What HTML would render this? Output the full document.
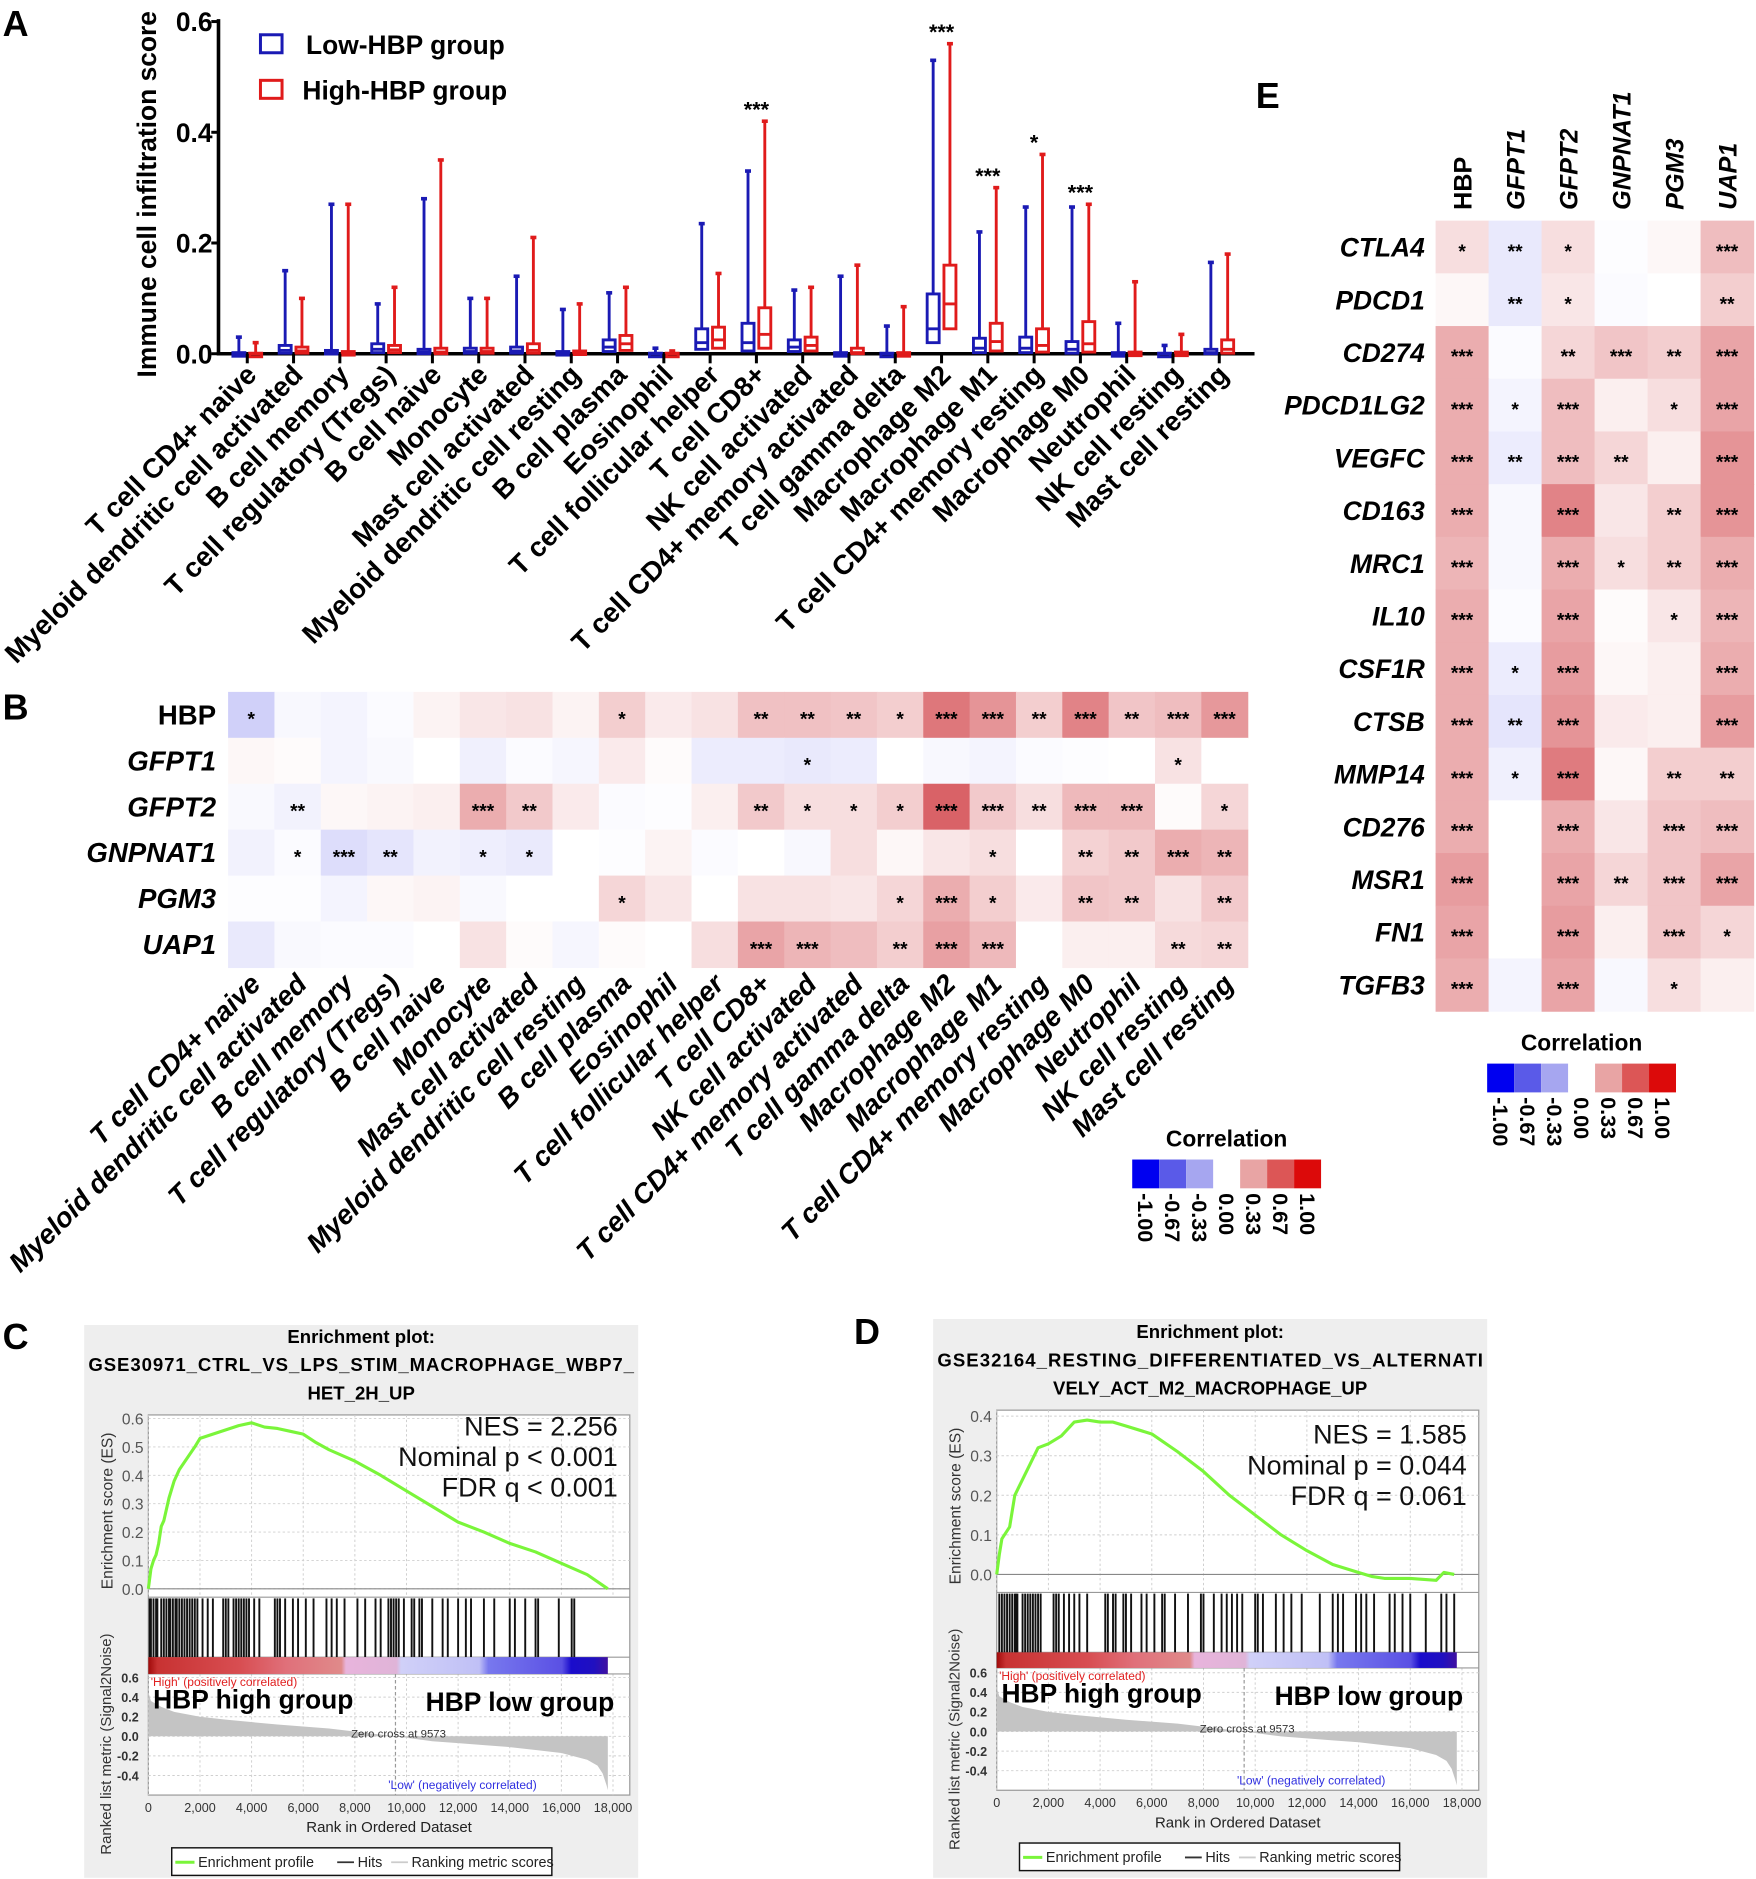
<!DOCTYPE html>
<html><head><meta charset="utf-8">
<style>
html,body{margin:0;padding:0;background:#fff;}
svg{display:block;font-family:"Liberation Sans",Arial,sans-serif;}
</style></head>
<body>
<svg id="fig" xmlns="http://www.w3.org/2000/svg" width="1756" height="1879" viewBox="0 0 1464 1567">
<rect x="0" y="0" width="1464" height="1567" fill="#fff"/>
<g id="panelA"></g>
<g id="panelB"></g>
<g id="panelE"></g>
<g id="panelC"></g>
<g id="panelD"></g>
</svg>
<script>
// ---------- Panel A data ----------
const cellTypes = ["T cell CD4+ naive","Myeloid dendritic cell activated","B cell memory","T cell regulatory (Tregs)","B cell naive","Monocyte","Mast cell activated","Myeloid dendritic cell resting","B cell plasma","Eosinophil","T cell follicular helper","T cell CD8+","NK cell activated","T cell CD4+ memory activated","T cell gamma delta","Macrophage M2","Macrophage M1","T cell CD4+ memory resting","Macrophage M0","Neutrophil","NK cell resting","Mast cell resting"];
const lowMax = [0.03,0.15,0.27,0.09,0.28,0.10,0.14,0.08,0.11,0.01,0.235,0.33,0.115,0.14,0.05,0.53,0.22,0.265,0.265,0.055,0.015,0.165];
const lowQ3  = [0.002,0.015,0.006,0.018,0.008,0.01,0.012,0.004,0.025,0.001,0.045,0.055,0.025,0.002,0.001,0.108,0.028,0.03,0.022,0.002,0.001,0.008];
const lowMed = [0,0.006,0.002,0.008,0.003,0.004,0.005,0.001,0.012,0,0.02,0.02,0.012,0,0,0.045,0.01,0.01,0.008,0,0,0.002];
const lowQ1  = [0,0.001,0,0.002,0,0.001,0.001,0,0.004,0,0.008,0.005,0.004,0,0,0.02,0.002,0.002,0.001,0,0,0];
const highMax = [0.02,0.10,0.27,0.12,0.35,0.10,0.21,0.09,0.12,0.005,0.145,0.42,0.12,0.16,0.085,0.56,0.30,0.36,0.27,0.13,0.035,0.18];
const highQ3  = [0.001,0.012,0.004,0.015,0.01,0.01,0.018,0.005,0.033,0.001,0.048,0.083,0.03,0.01,0.002,0.16,0.055,0.045,0.058,0.003,0.003,0.025];
const highMed = [0,0.005,0.001,0.007,0.003,0.004,0.006,0.001,0.018,0,0.025,0.035,0.015,0.002,0,0.09,0.022,0.015,0.018,0,0,0.008];
const highQ1  = [0,0.001,0,0.002,0,0.001,0.001,0,0.006,0,0.01,0.01,0.005,0,0,0.045,0.005,0.003,0.003,0,0,0.001];
const sigA = ["","","","","","","","","","","","***","","","","***","***","*","***","","",""];
const yTicksA = [0.0,0.2,0.4,0.6];
const yTickLabelsA = ["0.0","0.2","0.4","0.6"];

// ---------- Panel B data ----------
const genesB = ["HBP","GFPT1","GFPT2","GNPNAT1","PGM3","UAP1"];
const corrB = [
 [-0.25,-0.04,-0.06,-0.02,0.03,0.06,0.07,0.03,0.12,0.05,0.07,0.15,0.15,0.14,0.12,0.33,0.26,0.12,0.30,0.14,0.16,0.25],
 [0.02,0.01,-0.06,-0.03,0,-0.08,-0.02,-0.05,0.05,0.01,-0.1,-0.1,-0.12,-0.1,0,-0.04,-0.06,-0.02,-0.01,0,0.07,0],
 [-0.03,-0.07,0.02,0.03,0.04,0.2,0.13,0.05,-0.02,-0.01,0.04,0.13,0.08,0.08,0.12,0.38,0.13,0.08,0.17,0.17,0.01,0.1],
 [-0.07,-0.02,-0.18,-0.14,-0.07,-0.09,-0.11,0,-0.01,0.03,-0.02,0,-0.04,0.08,0.02,0.06,0.08,0,0.11,0.13,0.2,0.18],
 [-0.01,-0.01,-0.06,0.02,0.03,-0.03,0,0,0.1,0.06,0,0.07,0.07,0.06,0.1,0.2,0.12,0.05,0.14,0.13,0.07,0.13],
 [-0.12,-0.03,-0.02,-0.02,0,0.07,0.01,-0.05,0.01,0,0.08,0.22,0.18,0.16,0.12,0.23,0.17,0,0.04,0.04,0.09,0.1]];
const starsB = [
 ["*","","","","","","","","*","","","**","**","**","*","***","***","**","***","**","***","***"],
 ["","","","","","","","","","","","","*","","","","","","","","*",""],
 ["","**","","","","***","**","","","","","**","*","*","*","***","***","**","***","***","","*"],
 ["","*","***","**","","*","*","","","","","","","","","","*","","**","**","***","**"],
 ["","","","","","","","","*","","","","","","*","***","*","","**","**","","**"],
 ["","","","","","","","","","","","***","***","","**","***","***","","","","**","**"]];

// ---------- Panel E data ----------
const genesE = ["HBP","GFPT1","GFPT2","GNPNAT1","PGM3","UAP1"];
const targetsE = ["CTLA4","PDCD1","CD274","PDCD1LG2","VEGFC","CD163","MRC1","IL10","CSF1R","CTSB","MMP14","CD276","MSR1","FN1","TGFB3"];
const corrE = [
 [0.08,-0.12,0.08,-0.01,0.02,0.16],[0.02,-0.12,0.06,-0.02,0,0.12],[0.2,-0.02,0.1,0.14,0.12,0.22],
 [0.2,-0.06,0.16,0.04,0.08,0.22],[0.2,-0.1,0.16,0.1,0.04,0.26],[0.2,-0.04,0.3,0.06,0.12,0.26],
 [0.18,-0.04,0.2,0.08,0.12,0.2],[0.2,-0.02,0.22,0.01,0.06,0.18],[0.2,-0.1,0.24,0.02,0.04,0.2],
 [0.2,-0.14,0.26,0.05,0.04,0.24],[0.2,-0.08,0.32,0.02,0.12,0.12],[0.2,0,0.2,0.06,0.14,0.16],
 [0.24,0,0.22,0.1,0.14,0.22],[0.22,0,0.24,0.04,0.14,0.1],[0.2,-0.06,0.22,-0.04,0.08,0.04]];
const starsE = [
 ["*","**","*","","","***"],["","**","*","","","**"],["***","","**","***","**","***"],
 ["***","*","***","","*","***"],["***","**","***","**","","***"],["***","","***","","**","***"],
 ["***","","***","*","**","***"],["***","","***","","*","***"],["***","*","***","","","***"],
 ["***","**","***","","","***"],["***","*","***","","**","**"],["***","","***","","***","***"],
 ["***","","***","**","***","***"],["***","","***","","***","*"],["***","","***","","*",""]];
const legendTicks = ["-1.00","-0.67","-0.33","0.00","0.33","0.67","1.00"];

// ---------- Panel C/D data ----------
const esRankC = [0,0.1,0.2,0.3,0.4,0.5,0.6,0.8,1,1.2,1.5,1.8,2,2.5,3,3.5,4,4.5,5,5.5,6,6.5,7,8,9,10,11,12,13,14,15,16,17,17.8];
const esValC  = [0,0.07,0.1,0.12,0.16,0.22,0.24,0.32,0.38,0.42,0.46,0.5,0.53,0.545,0.56,0.575,0.585,0.57,0.565,0.555,0.545,0.515,0.49,0.45,0.4,0.345,0.29,0.235,0.2,0.16,0.13,0.09,0.05,0];
const esRankD = [0,0.1,0.2,0.5,0.7,1,1.3,1.6,2,2.5,3,3.5,4,4.5,5,6,7,8,9,10,11,12,13,14,14.5,15,16,17,17.3,17.7];
const esValD  = [0,0.05,0.09,0.12,0.2,0.24,0.28,0.32,0.33,0.35,0.385,0.39,0.385,0.385,0.375,0.355,0.31,0.26,0.2,0.15,0.1,0.06,0.025,0.005,-0.005,-0.01,-0.01,-0.015,0.005,0];
const hitsC = [0.05,0.1,0.2,0.3,0.35,0.5,0.6,0.7,0.8,0.85,0.95,1.05,1.1,1.2,1.3,1.4,1.5,1.6,1.7,1.8,1.9,2.1,2.3,2.5,2.9,3.0,3.1,3.3,3.4,3.5,3.6,3.7,3.8,3.9,4.1,4.3,4.9,5.0,5.1,5.3,5.6,5.8,6.1,6.4,6.9,7.1,7.3,7.6,8.1,8.4,8.8,9.0,9.3,9.4,9.5,9.6,9.7,9.9,10.2,10.3,10.5,10.6,11.0,11.4,11.6,12.0,12.3,12.5,13.0,13.4,14.0,14.2,14.6,15.0,15.1,15.9,16.4,16.5];
const hitsD = [0.1,0.2,0.3,0.4,0.5,0.6,0.7,0.75,0.8,1.0,1.1,1.2,1.3,1.4,1.5,1.6,1.7,2.2,2.3,2.4,2.6,2.8,3.0,3.2,3.5,4.2,4.3,4.5,4.6,4.9,5.0,5.2,5.6,5.8,6.1,6.4,6.5,6.9,7.4,7.9,8.0,8.4,8.7,8.9,9.1,9.3,9.5,10.0,10.1,10.3,10.8,11.1,11.4,11.8,12.5,13.0,13.2,13.4,13.9,14.1,14.3,14.6,15.2,15.4,15.7,16.0,16.6,17.2,17.4,17.7];
const metricRank = [0,0.1,0.5,1,2,3,5,7,9.57,11,12,13,14,15,16,17,17.4,17.6,17.75,17.8];
const metricVal  = [0.45,0.36,0.3,0.25,0.2,0.17,0.12,0.08,0,-0.05,-0.07,-0.09,-0.11,-0.14,-0.17,-0.24,-0.3,-0.38,-0.5,-0.55];
const rankTicks = [0,2000,4000,6000,8000,10000,12000,14000,16000,18000];
const rankTickLabels = ["0","2,000","4,000","6,000","8,000","10,000","12,000","14,000","16,000","18,000"];
const esTicksC = [0,0.1,0.2,0.3,0.4,0.5,0.6];
const esTicksD = [0,0.1,0.2,0.3,0.4];
const metricTicks = [0.6,0.4,0.2,0.0,-0.2,-0.4];

const NS="http://www.w3.org/2000/svg";
function el(tag,parent,attrs){const e=document.createElementNS(NS,tag);for(const k in attrs)e.setAttribute(k,attrs[k]);parent.appendChild(e);return e;}
function txt(parent,x,y,s,attrs){const e=el('text',parent,Object.assign({x:x,y:y},attrs||{}));e.textContent=s;return e;}
function heat(v){const t=Math.min(Math.abs(v)/0.4,1);if(v>=0)return `rgb(${Math.round(255-40*t)},${Math.round(255-165*t)},${Math.round(255-160*t)})`;return `rgb(${Math.round(255-75*t)},${Math.round(255-75*t)},${Math.round(255-10*t)})`;}

// ============ Panel A ============
(function(){
const g=document.getElementById('panelA');
const yA=v=>295-v*461.7;
const xA=i=>206+i*38.6;
const AX=182;
let t=txt(g,2,30,"A",{"font-size":30,"font-weight":"bold"});

t=txt(g,0,0,"Immune cell infiltration score",{"font-size":22,"font-weight":"bold","text-anchor":"middle",transform:"translate(130,162) rotate(-90)"});

let ax=el('line',g,{x1:AX,y1:16,x2:AX,y2:296,stroke:"#000","stroke-width":3});

ax=el('line',g,{x1:AX-1.5,y1:295,x2:1046,y2:295,stroke:"#000","stroke-width":3});

yTicksA.forEach((v,i)=>{
 const tk=el('line',g,{x1:AX-6,y1:yA(v),x2:AX,y2:yA(v),stroke:"#000","stroke-width":2.5});
 
 const l=txt(g,AX-5,yA(v)+8,yTickLabelsA[i],{"font-size":22,"font-weight":"bold","text-anchor":"end"});
 });
// legend
let r=el('rect',g,{x:217,y:29,width:18,height:15,fill:"none",stroke:"#1a1ab4","stroke-width":2.5});

t=txt(g,255,45,"Low-HBP group",{"font-size":22,"font-weight":"bold"});

r=el('rect',g,{x:217,y:67,width:18,height:15,fill:"none",stroke:"#e01b1b","stroke-width":2.5});

t=txt(g,252,83,"High-HBP group",{"font-size":22,"font-weight":"bold"});

function box(cx,mx,q3,md,q1,col,name){
 const bg=el('g',g,{stroke:col,"stroke-width":2.4,fill:"none"});
 
 el('line',bg,{x1:cx,y1:yA(mx),x2:cx,y2:yA(q3)});
 el('line',bg,{x1:cx-2.5,y1:yA(mx),x2:cx+2.5,y2:yA(mx),"stroke-width":3});
 const h=Math.max(yA(q1)-yA(q3),3);
 el('rect',bg,{x:cx-5,y:yA(q3),width:10,height:h});
 el('line',bg,{x1:cx-5,y1:yA(md),x2:cx+5,y2:yA(md)});
}
cellTypes.forEach((c,i)=>{
 const cx=xA(i);
 box(cx-7,lowMax[i],lowQ3[i],lowMed[i],lowQ1[i],"#1a1ab4","box-low-"+i);
 box(cx+7,highMax[i],highQ3[i],highMed[i],highQ1[i],"#e01b1b","box-high-"+i);
 const tk=el('line',g,{x1:cx,y1:295,x2:cx,y2:303,stroke:"#000","stroke-width":2.5});
 
 const l=txt(g,0,0,c,{"font-size":23,"font-weight":"bold","text-anchor":"end",transform:`translate(${cx+9},${314}) rotate(-45)`});
 
 if(sigA[i]){const s=txt(g,cx,yA(Math.max(lowMax[i],highMax[i]))-4,sigA[i],{"font-size":18,"font-weight":"bold","text-anchor":"middle"});
 }
});
})();

// ============ Colour legend helper ============
function colorLegend(g,x0,y0,name){
 const lg=el('g',g,{});
 
 const cols=["#0000f0","#5a5ae8","#a6a6f0","#ffffff","#e8a4a4","#dc5656","#dc0a0a"];
 const w=22.5;
 cols.forEach((c,i)=>{if(i!==3){const r=el('rect',lg,{x:x0+i*w,y:y0,width:w,height:24,fill:c});}});
 const t=txt(lg,x0+3.5*w,y0-11,"Correlation",{"font-size":19,"font-weight":"bold","text-anchor":"middle"});
 
 legendTicks.forEach((s,i)=>{const l=txt(lg,0,0,s,{"font-size":18,"font-weight":"bold",transform:`translate(${x0+i*w+5},${y0+28}) rotate(90)`});
 });
}

// ============ Panel B ============
(function(){
const g=document.getElementById('panelB');
const x0=190,y0=577,cw=38.65,ch=38.3;
let t=txt(g,2,600,"B",{"font-size":30,"font-weight":"bold"});

genesB.forEach((gn,r)=>{
 const l=txt(g,180,y0+r*ch+ch/2+8,gn,{"font-size":23,"font-weight":"bold","text-anchor":"end","font-style":r===0?"normal":"italic"});
 
 corrB[r].forEach((v,c)=>{
  const rc=el('rect',g,{x:x0+c*cw,y:y0+r*ch,width:cw+0.5,height:ch+0.5,fill:heat(v)});
  
  if(starsB[r][c]){const s=txt(g,x0+c*cw+cw/2,y0+r*ch+ch/2+9,starsB[r][c],{"font-size":16,"font-weight":"bold","text-anchor":"middle"});
  }
 });
});
cellTypes.forEach((c,i)=>{
 const cx=x0+i*cw+cw/2;
 const l=txt(g,0,0,c,{"font-size":23,"font-weight":"bold","font-style":"italic","text-anchor":"end",transform:`translate(${cx+9},${822}) rotate(-45)`});
 
});
colorLegend(g,944,967,'legend-b');
})();

// ============ Panel E ============
(function(){
const g=document.getElementById('panelE');
const x0=1197,y0=184,cw=44.2,ch=43.95;
let t=txt(g,1047,90,"E",{"font-size":30,"font-weight":"bold"});

genesE.forEach((gn,c)=>{
 const l=txt(g,0,0,gn,{"font-size":21,"font-weight":"bold","font-style":c===0?"normal":"italic",transform:`translate(${x0+c*cw+cw/2+8},175) rotate(-90)`});
 
});
targetsE.forEach((tg,r)=>{
 const l=txt(g,1188,y0+r*ch+ch/2+8,tg,{"font-size":22,"font-weight":"bold","font-style":"italic","text-anchor":"end"});
 
 corrE[r].forEach((v,c)=>{
  const rc=el('rect',g,{x:x0+c*cw,y:y0+r*ch,width:cw+0.5,height:ch+0.5,fill:heat(v)});
  
  if(starsE[r][c]){const s=txt(g,x0+c*cw+cw/2,y0+r*ch+ch/2+9,starsE[r][c],{"font-size":16,"font-weight":"bold","text-anchor":"middle"});
  }
 });
});
colorLegend(g,1240,887,'legend-e');
})();

// ============ GSEA panels ============
function gsea(gid,P){
 const g=document.getElementById(gid);
 const xR=r=>P.x0+r/18000*(P.x18-P.x0);
 const yE=v=>P.es0-v*(P.es0-P.esTopTickY)/P.esTopTickV;
 const yM=v=>P.m0-v*(P.m0-P.m06)/0.6;
 let bg=el('rect',g,{x:P.bx,y:P.by,width:P.bw,height:P.bh,fill:"#eeeeee"});
 
 let t=txt(g,P.lx,P.ly,P.letter,{"font-size":30,"font-weight":"bold"});
 
 P.title.forEach((s,i)=>{const tt=txt(g,P.tcx,P.ty+i*23.5,s,{"font-size":15.5,"font-weight":"bold","text-anchor":"middle"});
  if(i===1)tt.setAttribute('textLength',P.tl);
  });
 let fr=el('rect',g,{x:P.x0,y:P.ft,width:P.fr-P.x0,height:P.fb-P.ft,fill:"#fff",stroke:"#999","stroke-width":1});
 
 const grid=el('g',g,{stroke:"#cfcfcf","stroke-width":0.8,"stroke-dasharray":"2,2"});
 
 rankTicks.forEach(r=>{el('line',grid,{x1:xR(r),y1:P.ft,x2:xR(r),y2:P.s1});el('line',grid,{x1:xR(r),y1:P.s3,x2:xR(r),y2:P.fb});});
 P.esTicks.forEach(v=>el('line',grid,{x1:P.x0,y1:yE(v),x2:P.fr,y2:yE(v)}));
 metricTicks.forEach(v=>el('line',grid,{x1:P.x0,y1:yM(v),x2:P.fr,y2:yM(v)}));
 el('line',g,{x1:P.x0,y1:yE(0),x2:P.fr,y2:yE(0),stroke:"#888","stroke-width":1});
 [P.s1,P.s2,P.s3].forEach(y=>{const s=el('line',g,{x1:P.x0,y1:y,x2:P.fr,y2:y,stroke:"#999","stroke-width":1});});
 P.esTicks.forEach(v=>{const l=txt(g,P.x0-4,yE(v)+5,v.toFixed(1),{"font-size":13,fill:"#555","text-anchor":"end"});});
 metricTicks.forEach(v=>{const l=txt(g,P.x0-8,yM(v)+4,v.toFixed(1),{"font-size":10.5,fill:"#333","text-anchor":"end","font-weight":"bold"});});
 rankTicks.forEach((r,i)=>{const l=txt(g,xR(r),P.fb+14,rankTickLabels[i],{"font-size":10.5,fill:"#333","text-anchor":"middle"});});
 t=txt(g,(P.x0+P.fr)/2,P.fb+31,"Rank in Ordered Dataset",{"font-size":12.5,fill:"#222","text-anchor":"middle"});
 
 t=txt(g,0,0,"Enrichment score (ES)",{"font-size":13,fill:"#333","text-anchor":"middle",transform:`translate(${P.x0-30},${(P.ft+P.s1)/2+4}) rotate(-90)`});
 
 t=txt(g,0,0,"Ranked list metric (Signal2Noise)",{"font-size":12.5,fill:"#333","text-anchor":"middle",transform:`translate(${P.x0-31},${(P.s1+P.fb)/2+40}) rotate(-90)`});
 
 const hg=el('g',g,{stroke:"#111","stroke-width":1.6});
 
 P.hits.forEach(h=>{const ln=el('line',hg,{x1:xR(h*1000),y1:P.s1+1,x2:xR(h*1000),y2:P.s2});});
 const gradId=gid+"grad";
 const defs=el('defs',g,{});
 const lgd=el('linearGradient',defs,{id:gradId,x1:0,y1:0,x2:1,y2:0});
 [[0,"#a00a0a"],[0.02,"#c83232"],[0.2,"#d84e52"],[0.3,"#e0707a"],[0.42,"#e08a8a"],[0.43,"#e8b4dc"],[0.54,"#e0b4d8"],[0.55,"#d0d0f8"],[0.72,"#c0c0f6"],[0.74,"#7878ee"],[0.9,"#5a50e4"],[0.92,"#1a0ccc"],[0.97,"#2010c0"],[1,"#4010a0"]].forEach(s=>el('stop',lgd,{offset:s[0],"stop-color":s[1]}));
 let cb=el('rect',g,{x:P.x0,y:P.s2,width:xR(17800)-P.x0,height:P.s3-P.s2,fill:`url(#${gradId})`});
 
 let d=`M${xR(0)},${yM(0)}`;metricRank.forEach((r,i)=>{d+=` L${xR(r*1000)},${yM(metricVal[i])}`;});d+=` L${xR(17800)},${yM(0)} Z`;
 let ar=el('path',g,{d:d,fill:"#c4c4c4"});
 
 let zl=el('line',g,{x1:xR(9573),y1:P.s3,x2:xR(9573),y2:P.fb,stroke:"#999","stroke-dasharray":"3,2"});
 
 let pd="";P.esR.forEach((r,i)=>{pd+=(i?" L":"M")+xR(r*1000)+","+yE(P.esV[i]);});
 let cv=el('path',g,{d:pd,fill:"none",stroke:"#7af53a","stroke-width":2.6,"stroke-linejoin":"round"});
 
 P.stats.forEach((s,i)=>{const l=txt(g,P.fr-10,P.sy+i*25.5,s,{"font-size":22.5,"text-anchor":"end",fill:"#111"});});
 t=txt(g,P.x0+2,P.s3+10,"'High' (positively correlated)",{"font-size":10,fill:"#e02020"});
 t=txt(g,P.x0+4,P.s3+29,"HBP high group",{"font-size":22,"font-weight":"bold"});
 t=txt(g,P.fr-13,P.s3+31,"HBP low group",{"font-size":22,"font-weight":"bold","text-anchor":"end"});
 t=txt(g,xR(9573)-37,yM(0)+1,"Zero cross at 9573",{"font-size":9.5,fill:"#333"});
 t=txt(g,xR(9573)-6,P.fb-5,"'Low' (negatively correlated)",{"font-size":10,fill:"#3030e0"});
 const lg=el('g',g,{});
 el('rect',lg,{x:P.lgx,y:P.lgy,width:317,height:23,fill:"#fff",stroke:"#111","stroke-width":1.2});
 el('line',lg,{x1:P.lgx+3,y1:P.lgy+12,x2:P.lgx+19,y2:P.lgy+12,stroke:"#7af53a","stroke-width":2.5});
 txt(lg,P.lgx+22,P.lgy+16,"Enrichment profile",{"font-size":12,fill:"#222"});
 el('line',lg,{x1:P.lgx+138,y1:P.lgy+12,x2:P.lgx+152,y2:P.lgy+12,stroke:"#333","stroke-width":1.5});
 txt(lg,P.lgx+155,P.lgy+16,"Hits",{"font-size":12,fill:"#222"});
 el('line',lg,{x1:P.lgx+183,y1:P.lgy+12,x2:P.lgx+197,y2:P.lgy+12,stroke:"#ccc","stroke-width":1.5});
 txt(lg,P.lgx+200,P.lgy+16,"Ranking metric scores",{"font-size":12,fill:"#222"});
}
gsea('panelC',{letter:"C",lx:2,ly:1125,bx:70,by:1105,bw:462,bh:461,tcx:301,ty:1120,tl:455,
 title:["Enrichment plot:","GSE30971_CTRL_VS_LPS_STIM_MACROPHAGE_WBP7_","HET_2H_UP"],
 x0:123.5,x18:511,fr:525,ft:1180,s1:1332,s2:1382,s3:1396,fb:1497,
 es0:1325,esTopTickY:1183,esTopTickV:0.6,esTicks:esTicksC,m0:1448,m06:1399,
 esR:esRankC,esV:esValC,hits:hitsC,stats:["NES = 2.256","Nominal p < 0.001","FDR q < 0.001"],sy:1197,lgx:143,lgy:1541});
gsea('panelD',{letter:"D",lx:712,ly:1121,bx:778,by:1100,bw:462,bh:466,tcx:1009,ty:1116,tl:455,
 title:["Enrichment plot:","GSE32164_RESTING_DIFFERENTIATED_VS_ALTERNATI","VELY_ACT_M2_MACROPHAGE_UP"],
 x0:831,x18:1219,fr:1233,ft:1176,s1:1328,s2:1378,s3:1391,fb:1493,
 es0:1313,esTopTickY:1181,esTopTickV:0.4,esTicks:esTicksD,m0:1444,m06:1395,
 esR:esRankD,esV:esValD,hits:hitsD,stats:["NES = 1.585","Nominal p = 0.044","FDR q = 0.061"],sy:1204,lgx:850,lgy:1537});
</script>
</body></html>
